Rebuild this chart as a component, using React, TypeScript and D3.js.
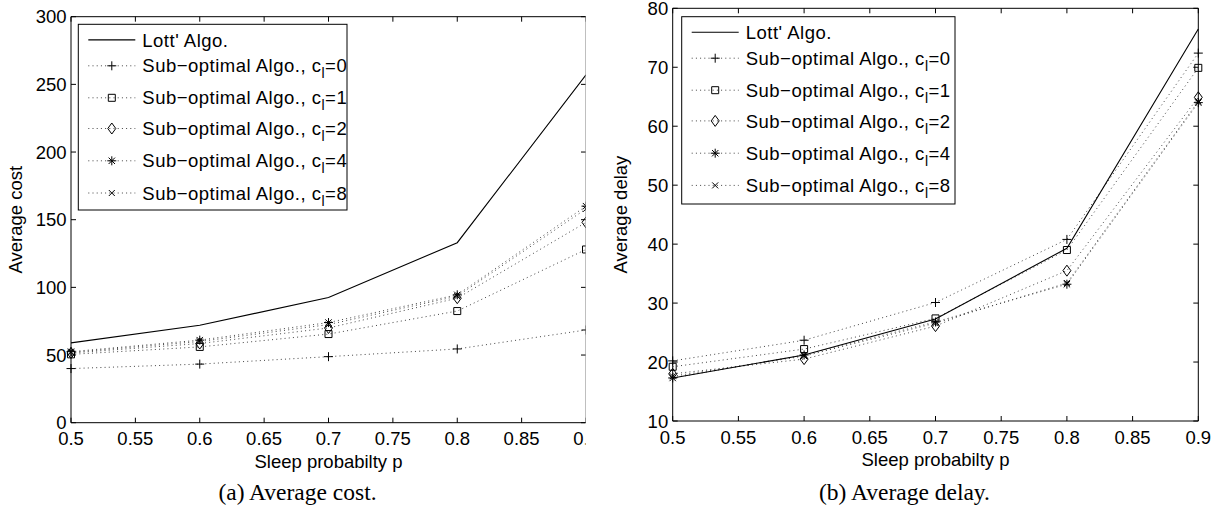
import React from 'react';
import * as d3 from 'd3';

// sleep probabilities on the x axis
const pValues = [0.5, 0.6, 0.7, 0.8, 0.9];
const xTicks = [0.5, 0.55, 0.6, 0.65, 0.7, 0.75, 0.8, 0.85, 0.9];
const costTicks = [0, 50, 100, 150, 200, 250, 300];
const delayTicks = [10, 20, 30, 40, 50, 60, 70, 80];

// c_l values of the sub-optimal algorithm
const cValues = [0, 1, 2, 4, 8];
const markerTypes = ['plus', 'square', 'diamond', 'asterisk', 'times'];

// (a) average cost
const costLott = [59, 72, 92.5, 133, 257];
const costC0 = [40, 43.3, 48.8, 54.5, 68.5];
const costC1 = [50.5, 56, 65.5, 82.5, 128];
const costC2 = [51.5, 58.5, 70, 92, 148];
const costC4 = [52.5, 61, 74, 94.5, 160];
const costC8 = [52, 60, 72.5, 93.5, 158];

// (b) average delay
const delayLott = [17.3, 21.2, 27.3, 39.3, 76.5];
const delayC0 = [20.2, 23.7, 30.1, 40.8, 72.4];
const delayC1 = [19.2, 22.2, 27.4, 39.0, 69.9];
const delayC2 = [18.0, 20.5, 26.1, 35.5, 64.9];
const delayC4 = [17.3, 21.2, 26.8, 33.2, 64.0];
const delayC8 = [17.6, 21.0, 26.6, 33.4, 64.2];

const FONT = '"Liberation Sans", Arial, Helvetica, sans-serif';
const SERIF = '"Liberation Serif", "Times New Roman", serif';

function markerPath(type: string) {
  switch (type) {
    case 'plus':
      return 'M-4.5,0H4.5M0,-4.5V4.5';
    case 'square':
      return 'M-3.5,-3.5H3.5V3.5H-3.5Z';
    case 'diamond':
      return 'M0,-5.5L4,0L0,5.5L-4,0Z';
    case 'asterisk':
      return 'M-4.5,0H4.5M0,-4.5V4.5M-3.2,-3.2L3.2,3.2M-3.2,3.2L3.2,-3.2';
    default:
      return 'M-3,-3L3,3M-3,3L3,-3';
  }
}

type PanelProps = {
  id: string;
  lott: number[];
  subs: number[][];
  yDomain: [number, number];
  yTicks: number[];
  left: number;
  right: number;
  top: number;
  bottom: number;
  legend: { x: number; y: number; w: number; h: number };
  yLabel: string;
  yLabelX: number;
  caption: string;
  clipRight?: number;
};

function Panel(props: PanelProps) {
  const { id, lott, subs, yDomain, yTicks, left, right, top, bottom, legend } = props;
  const x = d3.scaleLinear().domain([0.5, 0.9]).range([left, right]);
  const y = d3.scaleLinear().domain(yDomain).range([bottom, top]);
  const line = d3
    .line<number>()
    .x((_, i) => x(pValues[i]))
    .y((d) => y(d));
  const tick = 5;
  const rowOffsets = [15.6, 41.5, 73.5, 104.2, 136.5, 168.7];
  const clip = props.clipRight ? `url(#clip-${id})` : undefined;

  return (
    <g>
      {props.clipRight && (
        <defs>
          <clipPath id={`clip-${id}`}>
            <rect x={0} y={0} width={props.clipRight} height={514} />
          </clipPath>
        </defs>
      )}
      <g clipPath={clip}>
        {/* axes box */}
        <line x1={left} x2={left} y1={top} y2={bottom} stroke="#000" />
        <line x1={left} x2={right} y1={bottom} y2={bottom} stroke="#000" />
        <line x1={left} x2={right} y1={top} y2={top} stroke="#000" />
        <line x1={right} x2={right} y1={top} y2={bottom} stroke="#000" />

        {xTicks.map((t) => (
          <g key={`x${t}`}>
            <line x1={x(t)} x2={x(t)} y1={bottom} y2={bottom - tick} stroke="#000" />
            <line x1={x(t)} x2={x(t)} y1={top} y2={top + tick} stroke="#000" />
            <text
              x={x(t)}
              y={bottom + 22.5}
              textAnchor="middle"
              fontFamily={FONT}
              fontSize={18.5}
            >
              {String(t)}
            </text>
          </g>
        ))}
        {yTicks.map((t) => (
          <g key={`y${t}`}>
            <line x1={left} x2={left + tick} y1={y(t)} y2={y(t)} stroke="#000" />
            <line x1={right} x2={right - tick} y1={y(t)} y2={y(t)} stroke="#000" />
            <text
              x={left - 4.5}
              y={y(t)}
              dy="0.36em"
              textAnchor="end"
              fontFamily={FONT}
              fontSize={18.5}
            >
              {t}
            </text>
          </g>
        ))}

        {/* sub-optimal series, dotted */}
        {subs.map((s, k) => (
          <g key={`s${k}`}>
            <path
              d={line(s) || ''}
              fill="none"
              stroke="#444"
              strokeWidth={1}
              strokeDasharray="1 3.2"
            />
            {s.map((v, i) => (
              <path
                key={i}
                d={markerPath(markerTypes[k])}
                transform={`translate(${x(pValues[i])},${y(v)})`}
                fill="none"
                stroke="#000"
                strokeWidth={1}
              />
            ))}
          </g>
        ))}
        <path d={line(lott) || ''} fill="none" stroke="#000" strokeWidth={1.1} />
      </g>

      {/* legend */}
      <rect
        x={legend.x}
        y={legend.y}
        width={legend.w}
        height={legend.h}
        fill="#fff"
        stroke="#000"
      />
      <line
        x1={legend.x + 10}
        x2={legend.x + 57}
        y1={legend.y + rowOffsets[0]}
        y2={legend.y + rowOffsets[0]}
        stroke="#000"
        strokeWidth={1.1}
      />
      <text
        x={legend.x + 64}
        y={legend.y + rowOffsets[0]}
        dy="0.36em"
        fontFamily={FONT}
        fontSize={18.5}
        letterSpacing={0.5}
      >
        Lott' Algo.
      </text>
      {cValues.map((c, k) => {
        const ry = legend.y + rowOffsets[k + 1];
        return (
          <g key={`l${c}`}>
            <line
              x1={legend.x + 10}
              x2={legend.x + 57}
              y1={ry}
              y2={ry}
              stroke="#444"
              strokeDasharray="1 3.2"
            />
            <path
              d={markerPath(markerTypes[k])}
              transform={`translate(${legend.x + 33.5},${ry})`}
              fill="none"
              stroke="#000"
            />
            <text
              x={legend.x + 64}
              y={ry}
              dy="0.36em"
              fontFamily={FONT}
              fontSize={18.5}
              letterSpacing={0.5}
            >
              Sub−optimal Algo., c
              <tspan fontSize={14} dy={6}>
                l
              </tspan>
              <tspan dy={-6}>={c}</tspan>
            </text>
          </g>
        );
      })}

      {/* labels */}
      <text
        transform={`translate(${props.yLabelX},${(top + bottom) / 2}) rotate(-90)`}
        textAnchor="middle"
        dy="0.36em"
        fontFamily={FONT}
        fontSize={18.5}
      >
        {props.yLabel}
      </text>
      <text
        x={(left + right) / 2}
        y={bottom + 45}
        textAnchor="middle"
        fontFamily={FONT}
        fontSize={18.5}
      >
        Sleep probabilty p
      </text>
      <text
        x={(left + right) / 2 - 31}
        y={500}
        textAnchor="middle"
        fontFamily={SERIF}
        fontSize={23.5}
      >
        {props.caption}
      </text>
    </g>
  );
}

export default function App() {
  return (
    <div style={{ position: 'absolute', left: 0, top: 0 }}>
      <svg width={1215} height={514} style={{ display: 'block', background: '#fff' }}>
        <Panel
          id="cost"
          lott={costLott}
          subs={[costC0, costC1, costC2, costC4, costC8]}
          yDomain={[0, 300]}
          yTicks={costTicks}
          left={71}
          right={586}
          top={16.7}
          bottom={422.7}
          legend={{ x: 78.3, y: 24.3, w: 268.7, h: 185.7 }}
          yLabel="Average cost"
          yLabelX={15}
          caption="(a)  Average cost."
          clipRight={585.5}
        />
        <Panel
          id="delay"
          lott={delayLott}
          subs={[delayC0, delayC1, delayC2, delayC4, delayC8]}
          yDomain={[10, 80]}
          yTicks={delayTicks}
          left={672.7}
          right={1198.3}
          top={8.3}
          bottom={421}
          legend={{ x: 681.7, y: 16.7, w: 273.3, h: 187.3 }}
          yLabel="Average delay"
          yLabelX={620}
          caption="(b)  Average delay."
        />
      </svg>
    </div>
  );
}
